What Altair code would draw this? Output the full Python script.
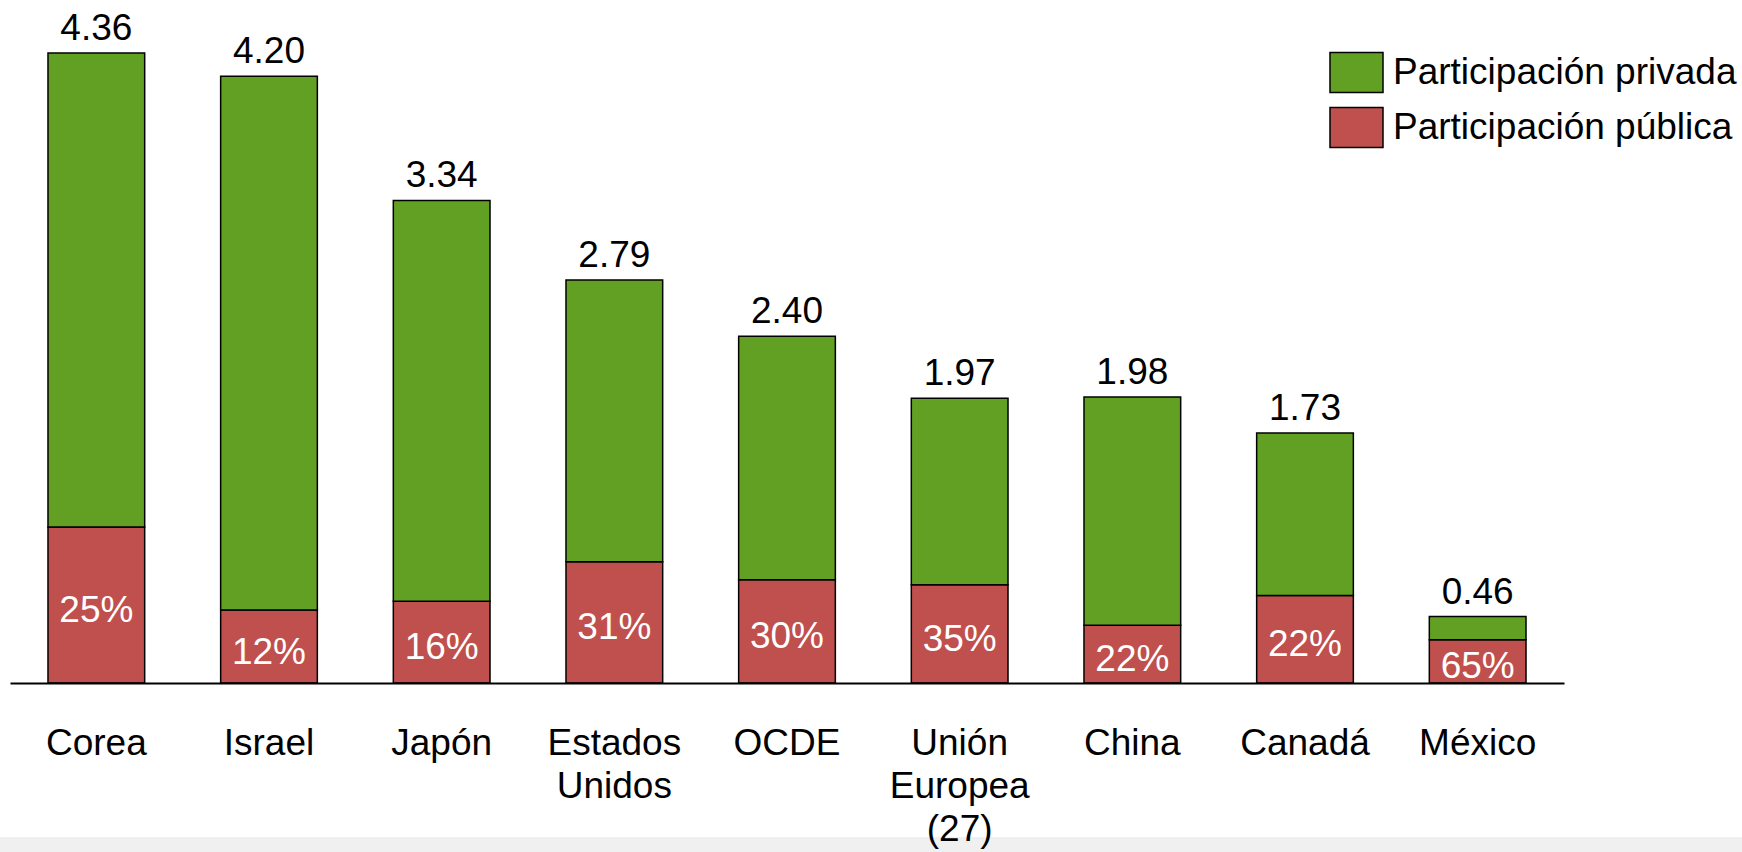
import altair as alt
import pandas as pd

paises = ["Corea", "Israel", "Japón", "Estados Unidos", "OCDE",
          "Unión Europea (27)", "China", "Canadá", "México"]
totales = [4.36, 4.20, 3.34, 2.79, 2.40, 1.97, 1.98, 1.73, 0.46]
# altura del tramo público
publica = [1.08, 0.505, 0.565, 0.84, 0.715, 0.68, 0.40, 0.605, 0.30]
pct_publica = [25, 12, 16, 31, 30, 35, 22, 22, 65]

serie_priv = "Participación privada"
serie_pub = "Participación pública"

filas = []
for p, t, pub in zip(paises, totales, publica):
    filas.append({"pais": p, "serie": serie_pub, "valor": pub, "orden": 0})
    filas.append({"pais": p, "serie": serie_priv, "valor": t - pub, "orden": 1})
df_seg = pd.DataFrame(filas)

df_tot = pd.DataFrame({
    "pais": paises,
    "total": totales,
    "mitad_pub": [pub / 2.0 for pub in publica],
    "etiqueta_pct": [f"{pc}%" for pc in pct_publica],
})

FONT = "Liberation Sans"
FS = 37

label_expr = ("datum.label == 'Estados Unidos' ? ['Estados', 'Unidos'] : "
              "datum.label == 'Unión Europea (27)' ? ['Unión', 'Europea', '(27)'] : datum.label")

x_enc = alt.X(
    "pais:N",
    sort=paises,
    scale=alt.Scale(paddingInner=0.44, paddingOuter=0.22),
    axis=alt.Axis(
        title=None, ticks=False, grid=False, labelAngle=0,
        labelFont=FONT, labelFontSize=FS, labelColor="black",
        labelPadding=42, labelLineHeight=43, labelExpr=label_expr,
        domainColor="black", domainWidth=2, zindex=1,
    ),
)

y_scale = alt.Scale(domain=[0, 4.727], nice=False, zero=True)

banda = alt.Chart(pd.DataFrame({"k": [0]})).mark_rect(color="#f0f0f0").encode(
    x=alt.value(-10), x2=alt.value(1732), y=alt.value(837), y2=alt.value(852)
)

barras = alt.Chart(df_seg).mark_bar(stroke="black", strokeWidth=1.5).encode(
    x=x_enc,
    y=alt.Y("valor:Q", stack="zero", scale=y_scale, axis=None),
    color=alt.Color(
        "serie:N",
        scale=alt.Scale(domain=[serie_priv, serie_pub], range=["#62a024", "#c0504d"]),
        legend=alt.Legend(
            title=None, orient="none", legendX=1319, legendY=45,
            symbolType="M-1,-0.755H1V0.755H-1Z", symbolSize=2809,
            symbolStrokeColor="black", symbolStrokeWidth=1.5, symbolOpacity=1,
            labelFont=FONT, labelFontSize=FS, labelColor="black",
            labelOffset=9, rowPadding=4, labelLimit=600,
        ),
    ),
    order=alt.Order("orden:Q"),
)

totales_txt = alt.Chart(df_tot).mark_text(
    baseline="alphabetic", dy=-13, font=FONT, fontSize=FS, color="black"
).encode(
    x=alt.X("pais:N", sort=paises),
    y=alt.Y("total:Q", scale=y_scale),
    text=alt.Text("total:Q", format=".2f"),
)

pct_txt = alt.Chart(df_tot).mark_text(
    baseline="middle", dy=6, font=FONT, fontSize=FS, color="white"
).encode(
    x=alt.X("pais:N", sort=paises),
    y=alt.Y("mitad_pub:Q", scale=y_scale),
    text="etiqueta_pct:N",
)

chart = alt.layer(banda, barras, totales_txt, pct_txt).properties(
    width=1554, height=683,
    autosize=alt.AutoSizeParams(type="none"),
    padding={"left": 10, "top": 0, "right": 178, "bottom": 169},
).configure_view(stroke=None)

chart.save("out.html", embed_options={"renderer": "svg", "actions": False})
